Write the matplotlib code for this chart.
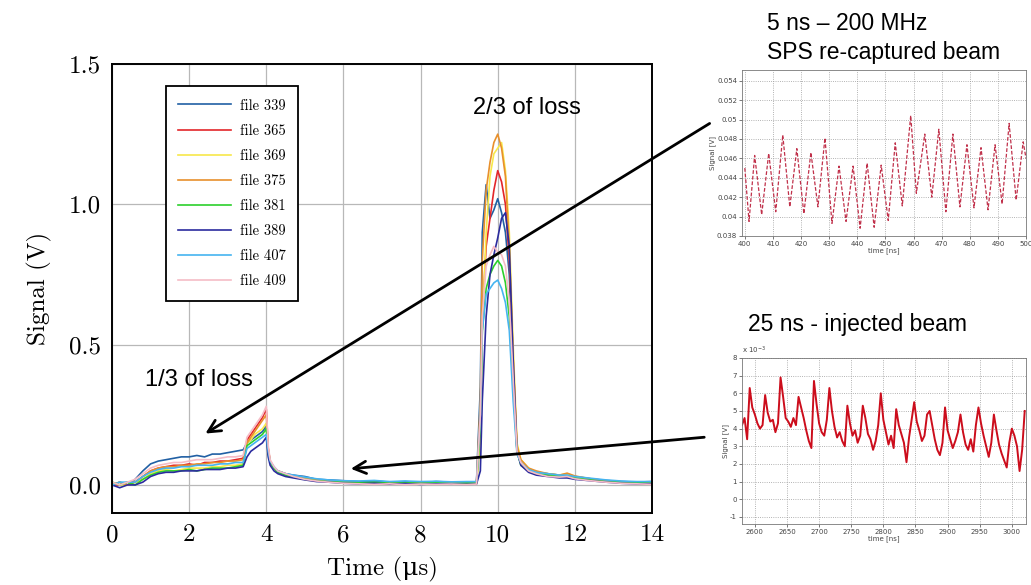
import matplotlib
matplotlib.use("Agg")
import matplotlib.pyplot as plt
from matplotlib.patches import FancyArrowPatch

plt.rcParams['axes.unicode_minus'] = False

# ---------------- main chart data ----------------
t_us = [0.0, 0.2, 0.4, 0.6, 0.8, 1.0, 1.2, 1.4, 1.6, 1.8, 2.0, 2.2, 2.4, 2.6, 2.8, 3.0, 3.2, 3.4,
        3.5, 3.6, 3.7, 3.8, 3.9, 4.0,
        4.05, 4.1, 4.2, 4.3, 4.5, 4.7, 5.0, 5.3, 5.6,
        6.0, 6.4, 6.8, 7.2, 7.6, 8.0, 8.4, 8.8, 9.2,
        9.45, 9.55, 9.6, 9.7, 9.8, 9.9, 10.0, 10.1, 10.2, 10.3, 10.4, 10.5, 10.6,
        10.8, 11.0, 11.3, 11.6, 11.8, 12.0, 12.4, 12.8, 13.2, 13.6, 14.0]

file_339 = [0.00, 0.01, 0.00, 0.02, 0.05, 0.075, 0.085, 0.09, 0.095, 0.10, 0.10, 0.105, 0.10, 0.11, 0.11, 0.115, 0.12, 0.125,
            0.15, 0.16, 0.17, 0.18, 0.19, 0.21,
            0.12, 0.08, 0.06, 0.05, 0.04, 0.035, 0.03, 0.02, 0.018,
            0.015, 0.012, 0.014, 0.01, 0.012, 0.008, 0.012, 0.01, 0.008,
            0.01, 0.35, 0.90, 1.07, 0.95, 0.98, 1.02, 0.97, 0.90, 0.75, 0.40, 0.12, 0.08,
            0.055, 0.045, 0.04, 0.035, 0.035, 0.03, 0.022, 0.016, 0.012, 0.01, 0.012]
file_365 = [0.00, 0.00, 0.01, 0.01, 0.03, 0.05, 0.06, 0.065, 0.07, 0.07, 0.075, 0.07, 0.08, 0.08, 0.085, 0.085, 0.09, 0.095,
            0.16, 0.18, 0.20, 0.22, 0.24, 0.27,
            0.13, 0.085, 0.06, 0.045, 0.035, 0.03, 0.022, 0.018, 0.012,
            0.01, 0.006, 0.008, 0.004, 0.006, 0.005, 0.003, 0.006, 0.004,
            0.005, 0.20, 0.60, 0.85, 0.95, 1.05, 1.12, 1.08, 1.00, 0.80, 0.45, 0.13, 0.08,
            0.05, 0.04, 0.035, 0.03, 0.03, 0.025, 0.018, 0.012, 0.008, 0.006, 0.004]
file_369 = [0.01, 0.00, 0.00, 0.01, 0.02, 0.04, 0.05, 0.055, 0.05, 0.055, 0.06, 0.06, 0.06, 0.065, 0.065, 0.07, 0.07, 0.075,
            0.15, 0.16, 0.18, 0.19, 0.20, 0.22,
            0.12, 0.08, 0.06, 0.045, 0.035, 0.03, 0.02, 0.016, 0.012,
            0.008, 0.006, 0.004, 0.006, 0.003, 0.005, 0.004, 0.006, 0.004,
            0.005, 0.15, 0.55, 0.90, 1.10, 1.18, 1.20, 1.22, 1.12, 0.90, 0.50, 0.15, 0.09,
            0.06, 0.045, 0.04, 0.035, 0.04, 0.03, 0.02, 0.014, 0.01, 0.008, 0.006]
file_375 = [0.00, 0.01, 0.00, 0.01, 0.03, 0.05, 0.06, 0.065, 0.065, 0.07, 0.07, 0.075, 0.075, 0.08, 0.08, 0.085, 0.085, 0.09,
            0.15, 0.17, 0.19, 0.21, 0.23, 0.25,
            0.13, 0.085, 0.06, 0.05, 0.04, 0.03, 0.024, 0.018, 0.014,
            0.01, 0.008, 0.006, 0.008, 0.005, 0.007, 0.005, 0.006, 0.005,
            0.006, 0.30, 0.80, 1.05, 1.15, 1.22, 1.25, 1.20, 1.10, 0.85, 0.45, 0.14, 0.09,
            0.06, 0.05, 0.04, 0.035, 0.042, 0.032, 0.022, 0.015, 0.01, 0.008, 0.006]
file_381 = [0.01, 0.00, 0.01, 0.00, 0.02, 0.035, 0.045, 0.05, 0.05, 0.05, 0.055, 0.05, 0.055, 0.06, 0.06, 0.06, 0.065, 0.07,
            0.14, 0.15, 0.16, 0.17, 0.18, 0.20,
            0.11, 0.08, 0.06, 0.045, 0.035, 0.028, 0.02, 0.015, 0.012,
            0.01, 0.008, 0.01, 0.006, 0.008, 0.006, 0.008, 0.005, 0.007,
            0.006, 0.20, 0.55, 0.70, 0.75, 0.78, 0.80, 0.78, 0.72, 0.60, 0.35, 0.12, 0.07,
            0.05, 0.04, 0.035, 0.03, 0.03, 0.025, 0.018, 0.012, 0.01, 0.008, 0.006]
file_389 = [0.00, -0.01, 0.00, 0.00, 0.01, 0.03, 0.04, 0.045, 0.045, 0.05, 0.05, 0.05, 0.055, 0.055, 0.055, 0.06, 0.06, 0.065,
            0.10, 0.12, 0.13, 0.14, 0.15, 0.17,
            0.10, 0.07, 0.05, 0.04, 0.03, 0.025, 0.018, 0.012, 0.01,
            0.006, 0.004, 0.006, 0.003, 0.005, 0.002, 0.004, 0.003, 0.002,
            0.003, 0.05, 0.30, 0.60, 0.75, 0.82, 0.88, 0.95, 0.97, 0.85, 0.45, 0.12, 0.07,
            0.045, 0.035, 0.03, 0.025, 0.025, 0.02, 0.015, 0.01, 0.006, 0.004, 0.004]
file_407 = [0.00, 0.01, 0.01, 0.01, 0.03, 0.045, 0.055, 0.06, 0.06, 0.065, 0.065, 0.07, 0.07, 0.07, 0.075, 0.075, 0.08, 0.08,
            0.13, 0.14, 0.15, 0.16, 0.17, 0.18,
            0.12, 0.085, 0.065, 0.05, 0.04, 0.035, 0.028, 0.022, 0.018,
            0.015, 0.014, 0.016, 0.012, 0.014, 0.012, 0.013, 0.011, 0.012,
            0.012, 0.25, 0.55, 0.68, 0.70, 0.72, 0.73, 0.70, 0.65, 0.55, 0.30, 0.11, 0.08,
            0.055, 0.045, 0.04, 0.035, 0.035, 0.03, 0.024, 0.018, 0.014, 0.012, 0.012]
file_409 = [0.01, 0.00, 0.01, 0.02, 0.04, 0.06, 0.07, 0.075, 0.08, 0.08, 0.085, 0.09, 0.09, 0.09, 0.095, 0.10, 0.10, 0.105,
            0.17, 0.19, 0.21, 0.23, 0.25, 0.28,
            0.14, 0.09, 0.065, 0.05, 0.04, 0.03, 0.02, 0.014, 0.01,
            0.006, 0.004, 0.002, 0.004, 0.001, 0.003, 0.002, 0.003, 0.001,
            0.003, 0.25, 0.60, 0.78, 0.82, 0.85, 0.83, 0.82, 0.78, 0.65, 0.38, 0.12, 0.08,
            0.05, 0.04, 0.03, 0.028, 0.03, 0.022, 0.015, 0.01, 0.006, 0.004, 0.002]

series_labels = ["file 339", "file 365", "file 369", "file 375", "file 381", "file 389", "file 407", "file 409"]
series_values = [file_339, file_365, file_369, file_375, file_381, file_389, file_407, file_409]
series_colors = ["#2160a4", "#e3262a", "#f7e84a", "#e8902c", "#2ccf2c", "#2b2b9e", "#45b4f0", "#f5bcc6"]

x_ticks = [0, 2, 4, 6, 8, 10, 12, 14]
y_ticks = [0.0, 0.5, 1.0, 1.5]

# ---------------- inset 1: 5 ns - 200 MHz ----------------
t_5ns = [400, 401.5, 403.5, 406, 408.5, 411, 413.5, 416, 418.5, 421, 423.5, 426, 428.5, 431, 433.5, 436,
         438.5, 441, 443.5, 446, 448.5, 451, 453.5, 456, 459, 461, 464, 466.5, 469, 471.5, 474, 476.5,
         479, 481.5, 484, 486.5, 489, 491.5, 494, 496.5, 499, 500]
sig_5ns = [0.045, 0.0395, 0.0463, 0.0402, 0.0465, 0.0405, 0.0484, 0.0410, 0.0470, 0.0403, 0.0466, 0.0410,
           0.0481, 0.0393, 0.0452, 0.0395, 0.0452, 0.0388, 0.0455, 0.0389, 0.0453, 0.0396, 0.0476, 0.0411,
           0.0504, 0.0424, 0.0485, 0.0420, 0.0490, 0.0405, 0.0485, 0.0410, 0.0474, 0.0409, 0.0471, 0.0407,
           0.0474, 0.0413, 0.0496, 0.0417, 0.0477, 0.046]
inset1_xticks = [400, 410, 420, 430, 440, 450, 460, 470, 480, 490, 500]
inset1_yticks = [0.038, 0.04, 0.042, 0.044, 0.046, 0.048, 0.05, 0.052, 0.054]

# ---------------- inset 2: 25 ns injected beam (units of 1e-3 V) ----------------
t_25ns = list(range(2580, 3021, 4))
sig_25ns = [4.2, 4.6, 3.4, 6.3, 5.2, 4.8, 4.3, 4.0, 4.2, 5.9,
            4.9, 4.4, 4.5, 3.8, 4.3, 6.9, 5.8, 4.6, 4.4, 4.1,
            4.6, 4.2, 5.8, 5.2, 4.6, 3.9, 3.3, 2.9, 6.7, 5.4,
            4.3, 3.8, 3.6, 4.5, 6.3, 5.0, 4.1, 3.5, 3.8, 3.3,
            3.0, 5.3, 4.3, 3.6, 3.9, 3.2, 3.6, 5.3, 4.6, 3.7,
            3.4, 2.8, 3.3, 4.2, 6.0, 4.5, 3.8, 3.1, 3.6, 2.9,
            5.1, 4.2, 3.7, 3.2, 2.1, 3.5, 4.5, 5.5, 4.4, 3.9,
            3.3, 3.6, 4.8, 5.0, 4.2, 3.4, 2.8, 2.5, 3.2, 5.2,
            3.9, 3.4, 2.9, 3.3, 3.8, 4.8, 3.8, 3.1, 2.8, 3.4,
            2.7, 4.2, 5.2, 4.3, 3.6, 3.0, 2.4, 3.2, 4.8, 3.9,
            3.1, 2.6, 2.2, 1.8, 3.2, 4.0, 3.6, 3.0, 1.6, 2.8,
            5.0]
inset2_xticks = [2600, 2650, 2700, 2750, 2800, 2850, 2900, 2950, 3000]
inset2_yticks = [-1, 0, 1, 2, 3, 4, 5, 6, 7, 8]

# ---------------- figure ----------------
W, H = 1031, 585
fig = plt.figure(figsize=(W / 100, H / 100), dpi=100)

def fig_box(l, t, r, b):
    return [l / W, 1 - b / H, (r - l) / W, (b - t) / H]

serif = ['cmr10', 'DejaVu Serif']
sans = ['Liberation Sans', 'DejaVu Sans']

ax = fig.add_axes(fig_box(112, 64, 652, 513))
for lab, vals, col in zip(series_labels, series_values, series_colors):
    ax.plot(t_us, vals, color=col, lw=1.2, label=lab)
ax.set_xlim(0, 14)
ax.set_ylim(-0.1, 1.5)
ax.set_xticks(x_ticks)
ax.set_yticks(y_ticks)
ax.set_xticklabels([str(v) for v in x_ticks], family=serif, fontsize=18)
ax.set_yticklabels(["%.1f" % v for v in y_ticks], family=serif, fontsize=18)
ax.tick_params(length=0, pad=8)
ax.grid(True, color="#b8b8b8", lw=0.9)
for s in ax.spines.values():
    s.set_linewidth(1.4)
ax.set_xlabel("Time (μs)", family=serif, fontsize=18, labelpad=8)
ax.set_ylabel("Signal (V)", family=serif, fontsize=18, labelpad=12)

leg = ax.legend(loc="upper left", bbox_to_anchor=(0.1, 0.95), borderaxespad=0,
                prop={'family': serif, 'size': 10.5}, fancybox=False, framealpha=1,
                edgecolor="black", labelspacing=0.78, handlelength=3.6, handletextpad=0.6,
                borderpad=0.85)
leg.get_frame().set_linewidth(1.3)

fig.text(473 / W, 1 - 108 / H, "2/3 of loss", family=sans, fontsize=17, va="center", ha="left")
fig.text(145 / W, 1 - 380 / H, "1/3 of loss", family=sans, fontsize=17, va="center", ha="left")

# ---------------- inset 1 ----------------
def style_inset(a):
    a.tick_params(labelsize=5, length=2, width=0.5, colors="#444444", pad=1.5)
    for s in a.spines.values():
        s.set_linewidth(0.6)
        s.set_color("#777777")
    a.grid(True, ls=":", color="#9a9a9a", lw=0.6)

ax1 = fig.add_axes(fig_box(742, 70, 1026, 236))
ax1.plot(t_5ns, sig_5ns, color="#c0304a", lw=0.9, ls=(0, (3, 1.5)))
ax1.set_xlim(399, 500)
ax1.set_ylim(0.038, 0.0551)
ax1.set_xticks(inset1_xticks)
ax1.set_yticks(inset1_yticks)
ax1.set_yticklabels([("%g" % v) for v in inset1_yticks])
style_inset(ax1)
ax1.set_xlabel("time [ns]", fontsize=5, labelpad=0.5, color="#444444")
ax1.set_ylabel("Signal [V]", fontsize=5, labelpad=1, color="#444444")

fig.text(767 / W, 1 - 23 / H, "5 ns \u2013 200 MHz", family=sans, fontsize=16.5, va="center")
fig.text(767 / W, 1 - 52 / H, "SPS re-captured beam", family=sans, fontsize=16.5, va="center")

# ---------------- inset 2 ----------------
ax2 = fig.add_axes(fig_box(742, 358, 1026, 524))
ax2.plot(t_25ns, sig_25ns, color="#cc0d1c", lw=1.4)
ax2.set_xlim(2580, 3022)
ax2.set_ylim(-1.4, 8)
ax2.set_xticks(inset2_xticks)
ax2.set_yticks(inset2_yticks)
style_inset(ax2)
ax2.set_xlabel("time [ns]", fontsize=5, labelpad=0.5, color="#444444")
ax2.set_ylabel("Signal [V]", fontsize=5, labelpad=1, color="#444444")
ax2.text(0.0, 1.01, r"x 10$^{-3}$", transform=ax2.transAxes, fontsize=5, color="#444444",
         va="bottom", ha="left")

fig.text(748 / W, 1 - 325 / H, "25 ns - injected beam", family=sans, fontsize=16.5, va="center")

# ---------------- arrows ----------------
def fig_arrow(x0, y0, x1, y1):
    arr = FancyArrowPatch((x0 / W, 1 - y0 / H), (x1 / W, 1 - y1 / H), transform=fig.transFigure,
                          arrowstyle="->", mutation_scale=22, lw=2.0, color="black")
    fig.add_artist(arr)

fig_arrow(712, 122, 203, 435)
fig_arrow(707, 437, 348, 469)

fig.savefig("out.png", dpi=100)
